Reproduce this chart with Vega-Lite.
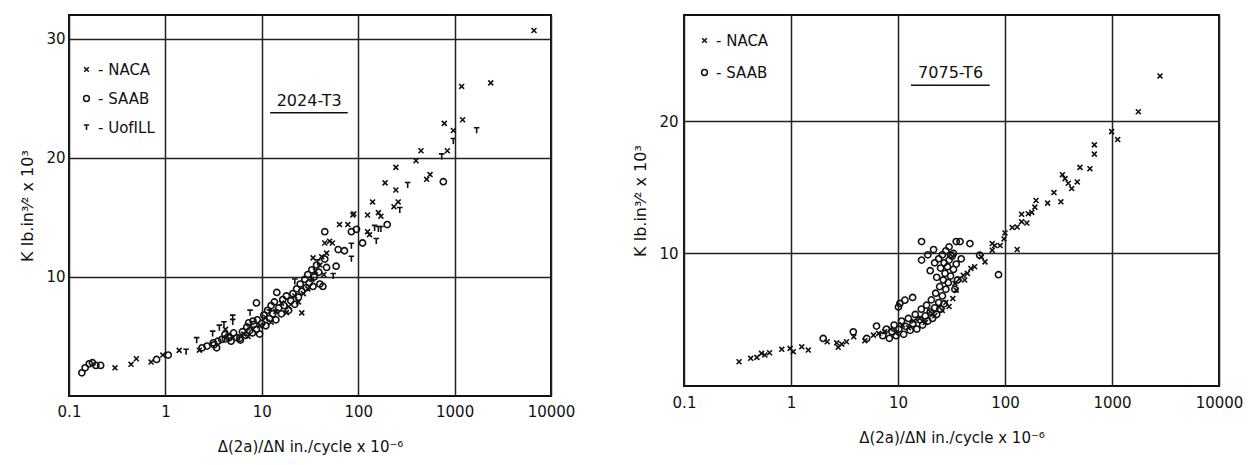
{
  "$schema": "https://vega.github.io/schema/vega-lite/v6.json",
  "background": "white",
  "padding": {"left": 18, "top": 5, "right": 5, "bottom": 5},
  "config": {
    "view": {"stroke": "#111", "strokeWidth": 2},
    "font": "DejaVu Sans",
    "axis": {
      "grid": true, "gridColor": "#222", "gridWidth": 1.5, "gridOpacity": 1,
      "ticks": false, "domain": false,
      "labelFontSize": 15, "labelColor": "#111", "labelFont": "DejaVu Sans",
      "titleFontSize": 15, "titleColor": "#111", "titleFont": "DejaVu Sans", "titleFontWeight": "normal"
    },
    "legend": {
      "labelFontSize": 15, "labelColor": "#111", "labelFont": "DejaVu Sans",
      "symbolStrokeColor": "#111", "symbolFillColor": "transparent", "symbolStrokeWidth": 1.5,
      "symbolSize": 34
    }
  },
  "datasets": {
    "a2024": [
      {"x": 0.30, "k": 2.37, "src": "NACA"}, {"x": 0.44, "k": 2.66, "src": "NACA"}, {"x": 0.50, "k": 3.13, "src": "NACA"},
      {"x": 0.71, "k": 2.85, "src": "NACA"}, {"x": 0.94, "k": 3.44, "src": "NACA"}, {"x": 1.39, "k": 3.83, "src": "NACA"},
      {"x": 2.25, "k": 3.85, "src": "NACA"}, {"x": 4.2, "k": 5.6, "src": "NACA"}, {"x": 6.5, "k": 5.2, "src": "NACA"},
      {"x": 7.2, "k": 5.0, "src": "NACA"}, {"x": 9.5, "k": 5.9, "src": "NACA"}, {"x": 11, "k": 6.6, "src": "NACA"},
      {"x": 12.5, "k": 6.2, "src": "NACA"}, {"x": 14, "k": 7.1, "src": "NACA"}, {"x": 16, "k": 7.8, "src": "NACA"},
      {"x": 18, "k": 7.0, "src": "NACA"}, {"x": 19, "k": 7.5, "src": "NACA"}, {"x": 22, "k": 8.4, "src": "NACA"},
      {"x": 24, "k": 7.9, "src": "NACA"}, {"x": 26, "k": 6.98, "src": "NACA"}, {"x": 27, "k": 8.6, "src": "NACA"},
      {"x": 30, "k": 9.0, "src": "NACA"}, {"x": 33, "k": 9.8, "src": "NACA"}, {"x": 34, "k": 11.6, "src": "NACA"},
      {"x": 36, "k": 10.5, "src": "NACA"}, {"x": 40, "k": 11.0, "src": "NACA"}, {"x": 41.8, "k": 11.7, "src": "NACA"},
      {"x": 44, "k": 10.2, "src": "NACA"}, {"x": 45, "k": 12.85, "src": "NACA"}, {"x": 47, "k": 12.0, "src": "NACA"},
      {"x": 50.5, "k": 13, "src": "NACA"}, {"x": 54, "k": 12.85, "src": "NACA"}, {"x": 64, "k": 14.4, "src": "NACA"},
      {"x": 78, "k": 14.4, "src": "NACA"}, {"x": 88, "k": 15.2, "src": "NACA"}, {"x": 90, "k": 15.3, "src": "NACA"},
      {"x": 125, "k": 13.8, "src": "NACA"}, {"x": 125, "k": 15.2, "src": "NACA"}, {"x": 131, "k": 13.55, "src": "NACA"},
      {"x": 141, "k": 16.3, "src": "NACA"}, {"x": 162, "k": 15.4, "src": "NACA"}, {"x": 172, "k": 15.1, "src": "NACA"},
      {"x": 190, "k": 17.9, "src": "NACA"}, {"x": 235, "k": 15.9, "src": "NACA"}, {"x": 246, "k": 19.2, "src": "NACA"},
      {"x": 246, "k": 17.3, "src": "NACA"}, {"x": 260, "k": 16.3, "src": "NACA"}, {"x": 398, "k": 19.76, "src": "NACA"},
      {"x": 448, "k": 20.6, "src": "NACA"}, {"x": 513, "k": 18.2, "src": "NACA"}, {"x": 556, "k": 18.6, "src": "NACA"},
      {"x": 782, "k": 22.9, "src": "NACA"}, {"x": 840, "k": 20.6, "src": "NACA"}, {"x": 970, "k": 22.3, "src": "NACA"},
      {"x": 1183, "k": 26, "src": "NACA"}, {"x": 1212, "k": 23.2, "src": "NACA"}, {"x": 2370, "k": 26.3, "src": "NACA"},
      {"x": 6660, "k": 30.7, "src": "NACA"},
      {"x": 1.64, "k": 3.69, "src": "UofILL"}, {"x": 2.11, "k": 4.67, "src": "UofILL"}, {"x": 3.09, "k": 5.22, "src": "UofILL"},
      {"x": 3.63, "k": 5.72, "src": "UofILL"}, {"x": 4.05, "k": 6.0, "src": "UofILL"}, {"x": 4.99, "k": 6.56, "src": "UofILL"},
      {"x": 4.99, "k": 6.2, "src": "UofILL"}, {"x": 7.55, "k": 6.98, "src": "UofILL"}, {"x": 12, "k": 7.0, "src": "UofILL"},
      {"x": 22, "k": 9.6, "src": "UofILL"}, {"x": 38, "k": 11.2, "src": "UofILL"}, {"x": 55, "k": 10.06, "src": "UofILL"},
      {"x": 85, "k": 12.6, "src": "UofILL"}, {"x": 85, "k": 11.5, "src": "UofILL"}, {"x": 148, "k": 14.1, "src": "UofILL"},
      {"x": 154, "k": 13, "src": "UofILL"}, {"x": 162, "k": 14, "src": "UofILL"}, {"x": 172, "k": 14, "src": "UofILL"},
      {"x": 270, "k": 15.6, "src": "UofILL"}, {"x": 326, "k": 17.7, "src": "UofILL"}, {"x": 735, "k": 20.1, "src": "UofILL"},
      {"x": 970, "k": 21.4, "src": "UofILL"}, {"x": 1694, "k": 22.3, "src": "UofILL"},
      {"x": 0.136, "k": 1.95, "src": "SAAB"}, {"x": 0.147, "k": 2.37, "src": "SAAB"}, {"x": 0.162, "k": 2.7, "src": "SAAB"},
      {"x": 0.175, "k": 2.8, "src": "SAAB"}, {"x": 0.19, "k": 2.57, "src": "SAAB"}, {"x": 0.213, "k": 2.57, "src": "SAAB"},
      {"x": 0.81, "k": 3.07, "src": "SAAB"}, {"x": 1.07, "k": 3.44, "src": "SAAB"}, {"x": 2.4, "k": 4.05, "src": "SAAB"},
      {"x": 2.7, "k": 4.19, "src": "SAAB"}, {"x": 3.14, "k": 4.47, "src": "SAAB"}, {"x": 3.4, "k": 4.05, "src": "SAAB"},
      {"x": 3.84, "k": 4.75, "src": "SAAB"}, {"x": 4.15, "k": 5.17, "src": "SAAB"}, {"x": 4.6, "k": 4.89, "src": "SAAB"},
      {"x": 5.1, "k": 5.3, "src": "SAAB"}, {"x": 5.9, "k": 4.84, "src": "SAAB"}, {"x": 7.3, "k": 6.14, "src": "SAAB"},
      {"x": 8.1, "k": 6.29, "src": "SAAB"}, {"x": 8.8, "k": 7.82, "src": "SAAB"},
      {"x": 3.2, "k": 4.3, "src": "SAAB"}, {"x": 3.5, "k": 4.6, "src": "SAAB"}, {"x": 4.2, "k": 4.8, "src": "SAAB"},
      {"x": 4.5, "k": 5.0, "src": "SAAB"}, {"x": 4.8, "k": 4.6, "src": "SAAB"}, {"x": 5.5, "k": 4.9, "src": "SAAB"},
      {"x": 6.0, "k": 4.7, "src": "SAAB"}, {"x": 6.3, "k": 5.4, "src": "SAAB"}, {"x": 6.8, "k": 5.1, "src": "SAAB"},
      {"x": 7.0, "k": 5.8, "src": "SAAB"}, {"x": 7.5, "k": 5.5, "src": "SAAB"}, {"x": 8.0, "k": 5.3, "src": "SAAB"},
      {"x": 8.3, "k": 6.0, "src": "SAAB"}, {"x": 8.8, "k": 5.6, "src": "SAAB"}, {"x": 9.0, "k": 6.4, "src": "SAAB"},
      {"x": 9.5, "k": 5.2, "src": "SAAB"}, {"x": 10, "k": 6.1, "src": "SAAB"}, {"x": 10.5, "k": 6.8, "src": "SAAB"},
      {"x": 11, "k": 5.9, "src": "SAAB"}, {"x": 11.5, "k": 7.2, "src": "SAAB"}, {"x": 12, "k": 6.5, "src": "SAAB"},
      {"x": 12.5, "k": 7.6, "src": "SAAB"}, {"x": 13, "k": 6.9, "src": "SAAB"}, {"x": 13.5, "k": 7.9, "src": "SAAB"},
      {"x": 14, "k": 6.4, "src": "SAAB"}, {"x": 14.3, "k": 8.7, "src": "SAAB"}, {"x": 15, "k": 7.4, "src": "SAAB"},
      {"x": 16, "k": 6.9, "src": "SAAB"}, {"x": 16.5, "k": 8.1, "src": "SAAB"}, {"x": 17, "k": 7.6, "src": "SAAB"},
      {"x": 18, "k": 8.4, "src": "SAAB"}, {"x": 19, "k": 7.2, "src": "SAAB"}, {"x": 20, "k": 8.0, "src": "SAAB"},
      {"x": 21, "k": 8.6, "src": "SAAB"}, {"x": 22, "k": 7.7, "src": "SAAB"}, {"x": 23, "k": 9.0, "src": "SAAB"},
      {"x": 24, "k": 8.3, "src": "SAAB"}, {"x": 25, "k": 9.4, "src": "SAAB"}, {"x": 26, "k": 8.8, "src": "SAAB"},
      {"x": 28, "k": 9.8, "src": "SAAB"}, {"x": 29, "k": 9.1, "src": "SAAB"}, {"x": 30, "k": 10.2, "src": "SAAB"},
      {"x": 31, "k": 9.5, "src": "SAAB"}, {"x": 33, "k": 10.6, "src": "SAAB"}, {"x": 34, "k": 9.2, "src": "SAAB"},
      {"x": 35, "k": 10.0, "src": "SAAB"}, {"x": 37, "k": 11.0, "src": "SAAB"}, {"x": 39, "k": 10.4, "src": "SAAB"},
      {"x": 40, "k": 9.4, "src": "SAAB"}, {"x": 43, "k": 9.2, "src": "SAAB"}, {"x": 45, "k": 11.5, "src": "SAAB"},
      {"x": 47, "k": 10.8, "src": "SAAB"}, {"x": 45, "k": 13.8, "src": "SAAB"}, {"x": 59, "k": 10.9, "src": "SAAB"},
      {"x": 62, "k": 12.3, "src": "SAAB"}, {"x": 72, "k": 12.2, "src": "SAAB"}, {"x": 85, "k": 13.8, "src": "SAAB"},
      {"x": 96, "k": 14, "src": "SAAB"}, {"x": 111, "k": 12.85, "src": "SAAB"}, {"x": 200, "k": 14.4, "src": "SAAB"},
      {"x": 764, "k": 18.0, "src": "SAAB"}
    ],
    "a7075": [
      {"x": 0.327, "k": 1.83, "src": "NACA"}, {"x": 0.42, "k": 2.09, "src": "NACA"}, {"x": 0.48, "k": 2.16, "src": "NACA"},
      {"x": 0.53, "k": 2.46, "src": "NACA"}, {"x": 0.57, "k": 2.34, "src": "NACA"}, {"x": 0.63, "k": 2.51, "src": "NACA"},
      {"x": 0.82, "k": 2.77, "src": "NACA"}, {"x": 0.98, "k": 2.84, "src": "NACA"}, {"x": 1.05, "k": 2.59, "src": "NACA"},
      {"x": 1.26, "k": 2.96, "src": "NACA"}, {"x": 1.45, "k": 2.71, "src": "NACA"}, {"x": 2.18, "k": 3.34, "src": "NACA"},
      {"x": 2.67, "k": 3.26, "src": "NACA"}, {"x": 2.76, "k": 2.92, "src": "NACA"}, {"x": 2.98, "k": 3.16, "src": "NACA"},
      {"x": 3.3, "k": 3.34, "src": "NACA"}, {"x": 3.86, "k": 3.71, "src": "NACA"}, {"x": 4.9, "k": 3.41, "src": "NACA"},
      {"x": 5.9, "k": 3.84, "src": "NACA"}, {"x": 6.6, "k": 3.97, "src": "NACA"}, {"x": 7.5, "k": 4.1, "src": "NACA"},
      {"x": 8.5, "k": 4.3, "src": "NACA"}, {"x": 9.5, "k": 4.0, "src": "NACA"}, {"x": 11, "k": 4.6, "src": "NACA"},
      {"x": 12.5, "k": 4.4, "src": "NACA"}, {"x": 14, "k": 4.9, "src": "NACA"}, {"x": 16, "k": 5.1, "src": "NACA"},
      {"x": 18, "k": 4.8, "src": "NACA"}, {"x": 20, "k": 5.6, "src": "NACA"}, {"x": 22, "k": 5.3, "src": "NACA"},
      {"x": 24, "k": 6.0, "src": "NACA"}, {"x": 26, "k": 5.7, "src": "NACA"}, {"x": 28, "k": 6.3, "src": "NACA"},
      {"x": 30, "k": 6.0, "src": "NACA"}, {"x": 32.5, "k": 6.6, "src": "NACA"}, {"x": 34, "k": 7.74, "src": "NACA"},
      {"x": 35, "k": 7.23, "src": "NACA"}, {"x": 37.6, "k": 8.1, "src": "NACA"}, {"x": 40.7, "k": 8.36, "src": "NACA"},
      {"x": 42, "k": 8.0, "src": "NACA"}, {"x": 44.5, "k": 8.5, "src": "NACA"}, {"x": 48, "k": 8.87, "src": "NACA"},
      {"x": 52, "k": 9.0, "src": "NACA"}, {"x": 60, "k": 9.74, "src": "NACA"}, {"x": 65, "k": 9.37, "src": "NACA"},
      {"x": 76, "k": 10.75, "src": "NACA"}, {"x": 76, "k": 10.25, "src": "NACA"}, {"x": 80, "k": 10.6, "src": "NACA"},
      {"x": 90, "k": 10.6, "src": "NACA"}, {"x": 98, "k": 11.1, "src": "NACA"}, {"x": 100, "k": 11.55, "src": "NACA"},
      {"x": 117, "k": 11.96, "src": "NACA"}, {"x": 130, "k": 12.0, "src": "NACA"}, {"x": 130, "k": 10.3, "src": "NACA"},
      {"x": 143, "k": 12.96, "src": "NACA"}, {"x": 143, "k": 12.4, "src": "NACA"}, {"x": 160, "k": 12.3, "src": "NACA"},
      {"x": 165, "k": 13.0, "src": "NACA"}, {"x": 178, "k": 13.1, "src": "NACA"}, {"x": 190, "k": 13.5, "src": "NACA"},
      {"x": 195, "k": 14, "src": "NACA"}, {"x": 250, "k": 13.8, "src": "NACA"}, {"x": 287, "k": 14.6, "src": "NACA"},
      {"x": 333, "k": 13.9, "src": "NACA"}, {"x": 344, "k": 15.95, "src": "NACA"}, {"x": 364, "k": 15.65, "src": "NACA"},
      {"x": 390, "k": 15.3, "src": "NACA"}, {"x": 420, "k": 14.9, "src": "NACA"}, {"x": 474, "k": 15.4, "src": "NACA"},
      {"x": 502, "k": 16.5, "src": "NACA"}, {"x": 622, "k": 16.4, "src": "NACA"}, {"x": 684, "k": 18.2, "src": "NACA"},
      {"x": 684, "k": 17.5, "src": "NACA"}, {"x": 993, "k": 19.2, "src": "NACA"}, {"x": 1130, "k": 18.6, "src": "NACA"},
      {"x": 1762, "k": 20.7, "src": "NACA"}, {"x": 2810, "k": 23.4, "src": "NACA"},
      {"x": 2.0, "k": 3.59, "src": "SAAB"}, {"x": 3.82, "k": 4.09, "src": "SAAB"}, {"x": 5.1, "k": 3.59, "src": "SAAB"},
      {"x": 6.3, "k": 4.52, "src": "SAAB"}, {"x": 7.2, "k": 3.8, "src": "SAAB"}, {"x": 7.8, "k": 4.3, "src": "SAAB"},
      {"x": 8.3, "k": 3.6, "src": "SAAB"}, {"x": 8.8, "k": 4.1, "src": "SAAB"}, {"x": 9.2, "k": 4.6, "src": "SAAB"},
      {"x": 9.6, "k": 3.8, "src": "SAAB"}, {"x": 10.2, "k": 4.3, "src": "SAAB"}, {"x": 10.8, "k": 4.9, "src": "SAAB"},
      {"x": 11.3, "k": 3.9, "src": "SAAB"}, {"x": 11.8, "k": 4.5, "src": "SAAB"}, {"x": 12.5, "k": 5.1, "src": "SAAB"},
      {"x": 13, "k": 4.2, "src": "SAAB"}, {"x": 13.8, "k": 4.7, "src": "SAAB"}, {"x": 14.5, "k": 5.4, "src": "SAAB"},
      {"x": 15, "k": 4.3, "src": "SAAB"}, {"x": 16, "k": 5.0, "src": "SAAB"}, {"x": 16.5, "k": 5.8, "src": "SAAB"},
      {"x": 17, "k": 4.6, "src": "SAAB"}, {"x": 18, "k": 5.3, "src": "SAAB"}, {"x": 18.5, "k": 6.1, "src": "SAAB"},
      {"x": 19, "k": 4.9, "src": "SAAB"}, {"x": 20, "k": 5.6, "src": "SAAB"}, {"x": 20.5, "k": 6.5, "src": "SAAB"},
      {"x": 21, "k": 5.1, "src": "SAAB"}, {"x": 22, "k": 5.9, "src": "SAAB"}, {"x": 22.5, "k": 7.0, "src": "SAAB"},
      {"x": 23, "k": 5.4, "src": "SAAB"}, {"x": 24, "k": 6.3, "src": "SAAB"}, {"x": 24.5, "k": 7.5, "src": "SAAB"},
      {"x": 25, "k": 5.8, "src": "SAAB"}, {"x": 26, "k": 6.8, "src": "SAAB"}, {"x": 26.5, "k": 8.0, "src": "SAAB"},
      {"x": 27, "k": 6.2, "src": "SAAB"}, {"x": 27.5, "k": 8.5, "src": "SAAB"}, {"x": 28, "k": 7.3, "src": "SAAB"},
      {"x": 29, "k": 9.0, "src": "SAAB"}, {"x": 29.5, "k": 7.8, "src": "SAAB"}, {"x": 30, "k": 9.5, "src": "SAAB"},
      {"x": 31, "k": 8.3, "src": "SAAB"}, {"x": 32, "k": 9.8, "src": "SAAB"}, {"x": 33, "k": 8.8, "src": "SAAB"},
      {"x": 34, "k": 7.3, "src": "SAAB"}, {"x": 35, "k": 9.2, "src": "SAAB"}, {"x": 36, "k": 8.0, "src": "SAAB"},
      {"x": 20, "k": 8.7, "src": "SAAB"}, {"x": 22, "k": 9.3, "src": "SAAB"}, {"x": 23, "k": 8.2, "src": "SAAB"},
      {"x": 24, "k": 9.6, "src": "SAAB"}, {"x": 25, "k": 8.9, "src": "SAAB"}, {"x": 26, "k": 9.9, "src": "SAAB"},
      {"x": 27, "k": 9.3, "src": "SAAB"}, {"x": 28, "k": 10.2, "src": "SAAB"}, {"x": 30, "k": 10.5, "src": "SAAB"},
      {"x": 31, "k": 9.9, "src": "SAAB"}, {"x": 33, "k": 10.0, "src": "SAAB"},
      {"x": 10.1, "k": 5.97, "src": "SAAB"}, {"x": 10.4, "k": 6.23, "src": "SAAB"}, {"x": 11.6, "k": 6.48, "src": "SAAB"},
      {"x": 13.7, "k": 6.68, "src": "SAAB"}, {"x": 16.6, "k": 10.9, "src": "SAAB"}, {"x": 16.6, "k": 9.5, "src": "SAAB"},
      {"x": 19, "k": 9.9, "src": "SAAB"}, {"x": 21.5, "k": 10.3, "src": "SAAB"}, {"x": 35, "k": 10.9, "src": "SAAB"},
      {"x": 38, "k": 10.9, "src": "SAAB"}, {"x": 39, "k": 9.6, "src": "SAAB"}, {"x": 47, "k": 10.75, "src": "SAAB"},
      {"x": 58, "k": 9.87, "src": "SAAB"}, {"x": 87, "k": 8.4, "src": "SAAB"}
    ]
  },
  "hconcat": [
    {
      "width": 482,
      "height": 381,
      "title": {"text": " ", "fontSize": 2, "offset": 7},
      "layer": [
        {
          "data": {"name": "a2024"},
          "mark": {"type": "point", "filled": false, "stroke": "#111", "strokeWidth": 1.6, "size": 38, "opacity": 1},
          "encoding": {
            "x": {
              "field": "x", "type": "quantitative",
              "scale": {"type": "log", "domain": [0.1, 10000]},
              "axis": {
                "values": [0.1, 1, 10, 100, 1000, 10000],
                "labelExpr": "datum.value < 1 ? '0.1' : format(datum.value, 'd')",
                "labelPadding": 8, "labelFlush": false,
                "title": "Δ(2a)/ΔN    in./cycle  x 10⁻⁶", "titlePadding": 20
              }
            },
            "y": {
              "field": "k", "type": "quantitative",
              "scale": {"domain": [0, 32], "nice": false},
              "axis": {
                "values": [10, 20, 30], "labelPadding": 4,
                "title": "K   lb.in³⁄²  x  10³", "titlePadding": 10, "titleFontSize": 16
              }
            },
            "shape": {
              "field": "src", "type": "nominal",
              "scale": {
                "domain": ["NACA", "SAAB", "UofILL"],
                "range": ["M-0.8,-0.8L0.8,0.8M-0.8,0.8L0.8,-0.8", "circle", "M-0.9,-0.9L0.9,-0.9M0,-0.9L0,0.9"]
              },
              "legend": {
                "title": null, "orient": "none", "legendX": 10, "legendY": 47,
                "labelExpr": "'- ' + datum.label", "rowPadding": 13, "labelOffset": 4
              }
            }
          }
        },
        {
          "data": {"values": [{}]},
          "mark": {"type": "text", "fontSize": 16, "color": "#111", "font": "DejaVu Sans"},
          "encoding": {"x": {"datum": 31}, "y": {"datum": 24.8}, "text": {"value": "2024-T3"}}
        },
        {
          "data": {"values": [{}]},
          "mark": {"type": "rule", "strokeWidth": 1.5, "color": "#111"},
          "encoding": {"x": {"datum": 12.2}, "x2": {"datum": 78}, "y": {"datum": 23.8}}
        }
      ],
      "resolve": {"scale": {"shape": "independent"}}
    },
    {
      "width": 535,
      "height": 371,
      "layer": [
        {
          "data": {"name": "a7075"},
          "mark": {"type": "point", "filled": false, "stroke": "#111", "strokeWidth": 1.6, "size": 38, "opacity": 1},
          "encoding": {
            "x": {
              "field": "x", "type": "quantitative",
              "scale": {"type": "log", "domain": [0.1, 10000]},
              "axis": {
                "values": [0.1, 1, 10, 100, 1000, 10000],
                "labelExpr": "datum.value < 1 ? '0.1' : format(datum.value, 'd')",
                "labelPadding": 9, "labelFlush": false,
                "title": "Δ(2a)/ΔN    in./cycle  x 10⁻⁶", "titlePadding": 20
              }
            },
            "y": {
              "field": "k", "type": "quantitative",
              "scale": {"domain": [0, 28], "nice": false},
              "axis": {
                "values": [10, 20], "labelPadding": 6,
                "title": "K   lb.in³⁄²  x  10³", "titlePadding": 10, "titleFontSize": 16
              }
            },
            "shape": {
              "field": "src", "type": "nominal",
              "scale": {
                "domain": ["NACA", "SAAB"],
                "range": ["M-0.8,-0.8L0.8,0.8M-0.8,0.8L0.8,-0.8", "circle"]
              },
              "legend": {
                "title": null, "orient": "none", "legendX": 13, "legendY": 18,
                "labelExpr": "'- ' + datum.label", "rowPadding": 16, "labelOffset": 4
              }
            }
          }
        },
        {
          "data": {"values": [{}]},
          "mark": {"type": "text", "fontSize": 16, "color": "#111", "font": "DejaVu Sans"},
          "encoding": {"x": {"datum": 31}, "y": {"datum": 23.6}, "text": {"value": "7075-T6"}}
        },
        {
          "data": {"values": [{}]},
          "mark": {"type": "rule", "strokeWidth": 1.5, "color": "#111"},
          "encoding": {"x": {"datum": 13.2}, "x2": {"datum": 72}, "y": {"datum": 22.7}}
        }
      ]
    }
  ],
  "spacing": 55,
  "resolve": {"scale": {"shape": "independent", "x": "independent", "y": "independent"}, "legend": {"shape": "independent"}}
}
